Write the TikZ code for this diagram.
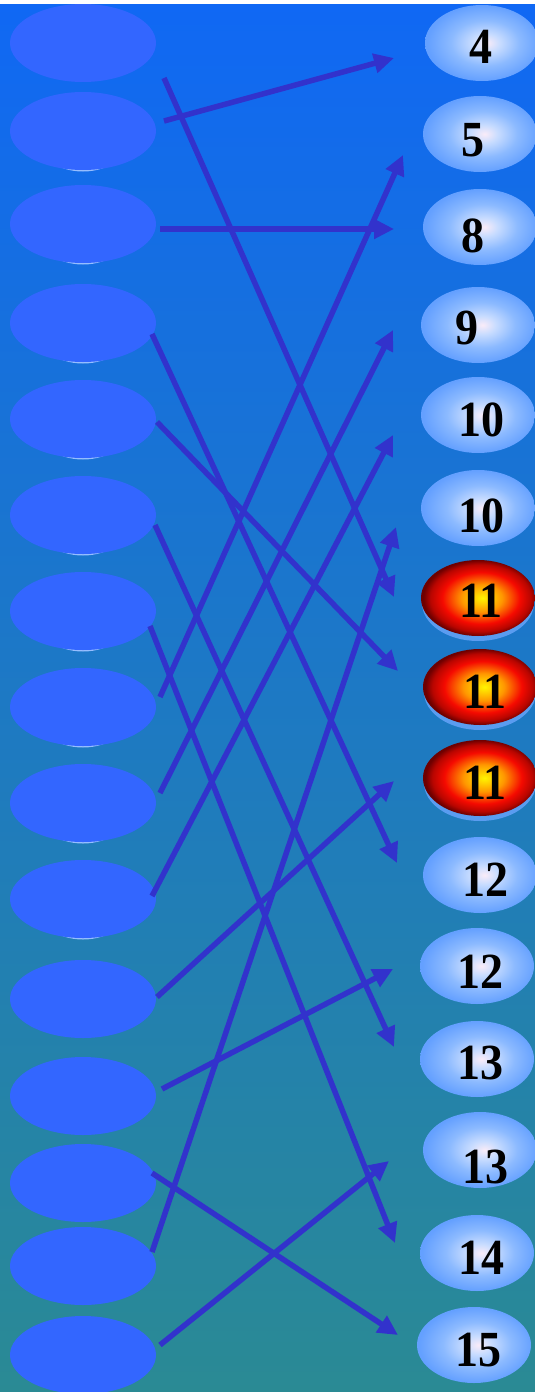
\documentclass[tikz,border=0pt]{standalone}
\usepackage{fontspec}
\setmainfont{Liberation Serif}
\usetikzlibrary{arrows.meta,shapes.geometric}
\definecolor{bgtop}{RGB}{16,104,244}
\definecolor{bgmid}{RGB}{30,122,216}
\definecolor{bgbot}{RGB}{42,138,148}
\definecolor{lfill}{RGB}{51,102,255}
\definecolor{lshad}{RGB}{150,190,255}
\definecolor{arrcol}{RGB}{50,50,204}
\definecolor{bbw}{RGB}{250,236,248}
\definecolor{bbm}{RGB}{200,220,255}
\definecolor{bbo}{RGB}{140,186,255}
\definecolor{bbe}{RGB}{100,160,255}
\definecolor{rry}{RGB}{255,245,0}
\definecolor{rro}{RGB}{255,150,0}
\definecolor{rrr}{RGB}{245,10,0}
\definecolor{rrd}{RGB}{110,0,0}
\definecolor{rshad}{RGB}{90,156,240}
\pgfdeclareradialshading{bluebub}{\pgfpoint{2bp}{0bp}}{color(0bp)=(bbw); color(6bp)=(bbm); color(15bp)=(bbo); color(25bp)=(bbe); color(50bp)=(bbe)}
\pgfdeclareradialshading{redbub}{\pgfpoint{2bp}{0bp}}{color(0bp)=(rry); color(9bp)=(rro); color(17bp)=(rrr); color(22bp)=(rrr!55!rrd); color(25bp)=(rrd); color(50bp)=(rrd)}
\tikzset{
  lell/.style={ellipse, fill=lfill, minimum width=146pt, minimum height=78pt, inner sep=0pt},
  lsh/.style={ellipse, fill=lshad, minimum width=100pt, minimum height=78pt, inner sep=0pt},
  bbub/.style={ellipse, shading=bluebub, minimum width=114pt, minimum height=76pt, inner sep=0pt},
  rbub/.style={ellipse, shading=redbub, minimum width=114pt, minimum height=76pt, inner sep=0pt},
  rsh/.style={ellipse, fill=rshad, minimum width=112pt, minimum height=76pt, inner sep=0pt},
  lbl/.style={inner sep=0pt, font=\fontsize{46}{46}\selectfont\bfseries, text=black},
  arr/.style={draw=arrcol, line width=5.5pt, -{Triangle[length=20pt,width=19pt]}}
}
\newcommand{\numtxt}[1]{\scalebox{1}[1.1]{#1}}
\begin{document}
\begin{tikzpicture}[x=1pt,y=-1pt]
\useasboundingbox (0,0) rectangle (535,1392);
\fill[white] (0,0) rectangle (535,1392);
\shade[top color=bgtop, middle color=bgmid, bottom color=bgbot] (0,4) rectangle (535,1392);
% left ellipse light shadows
\foreach \y [count=\i from 2] in {131,224,323,419,515,611,707,803,899}
  \node[lsh] (LS\i) at (83,\y+1.5) {};
% left ellipses
\foreach \y [count=\i] in {43,131,224,323,419,515,611,707,803,899,999,1096,1183,1266,1355}
  \node[lell] (L\i) at (83,\y) {};
% right ellipses
\node[bbub] (R1) at (482,43) {};
\node[bbub] (R2) at (480,134) {};
\node[bbub] (R3) at (480,227) {};
\node[bbub] (R4) at (478,325) {};
\node[bbub] (R5) at (478,415) {};
\node[bbub] (R6) at (478,508) {};
\node[rsh] (RS7) at (478,603) {};
\node[rbub] (R7) at (478,598) {};
\node[rsh] (RS8) at (480,692) {};
\node[rbub] (R8) at (480,687) {};
\node[rsh] (RS9) at (480,783) {};
\node[rbub] (R9) at (480,778) {};
\node[bbub] (R10) at (480,875) {};
\node[bbub] (R11) at (477,966) {};
\node[bbub] (R12) at (477,1059) {};
\node[bbub] (R13) at (480,1150) {};
\node[bbub] (R14) at (477,1253) {};
\node[bbub] (R15) at (474,1345) {};
% labels
\node[lbl] (T1) at (481,47) {\numtxt{4}};
\node[lbl] (T2) at (473,140) {\numtxt{5}};
\node[lbl] (T3) at (473,236) {\numtxt{8}};
\node[lbl] (T4) at (467,328) {\numtxt{9}};
\node[lbl] (T5) at (481,420) {\numtxt{10}};
\node[lbl] (T6) at (481,516) {\numtxt{10}};
\node[lbl] (T7) at (481,601) {\numtxt{11}};
\node[lbl] (T8) at (485,692) {\numtxt{11}};
\node[lbl] (T9) at (485,783) {\numtxt{11}};
\node[lbl] (T10) at (485,880) {\numtxt{12}};
\node[lbl] (T11) at (480,972) {\numtxt{12}};
\node[lbl] (T12) at (480,1063) {\numtxt{13}};
\node[lbl] (T13) at (485,1167) {\numtxt{13}};
\node[lbl] (T14) at (481,1258) {\numtxt{14}};
\node[lbl] (T15) at (478,1350) {\numtxt{15}};
% arrow end points
\coordinate (s1) at (164,78);    \coordinate (t1) at (394,597);
\coordinate (s2) at (164,121);   \coordinate (t2) at (394,58);
\coordinate (s3) at (160,229);   \coordinate (t3) at (394,229);
\coordinate (s4) at (152,334);   \coordinate (t4) at (397,863);
\coordinate (s5) at (157,422);   \coordinate (t5) at (398,671);
\coordinate (s6) at (155,525);   \coordinate (t6) at (394,1047);
\coordinate (s7) at (150,626);   \coordinate (t7) at (395,1243);
\coordinate (s8) at (160,697);   \coordinate (t8) at (403,155);
\coordinate (s9) at (160,793);   \coordinate (t9) at (393,330);
\coordinate (s10) at (152,896);  \coordinate (t10) at (393,435);
\coordinate (s11) at (157,997);  \coordinate (t11) at (394,781);
\coordinate (s12) at (162,1089); \coordinate (t12) at (393,969);
\coordinate (s13) at (152,1173); \coordinate (t13) at (398,1335);
\coordinate (s14) at (152,1252); \coordinate (t14) at (396,527);
\coordinate (s15) at (160,1345); \coordinate (t15) at (389,1161);
\foreach \i in {1,...,15}
  \draw[arr] (s\i) -- (t\i);
\end{tikzpicture}
\end{document}
